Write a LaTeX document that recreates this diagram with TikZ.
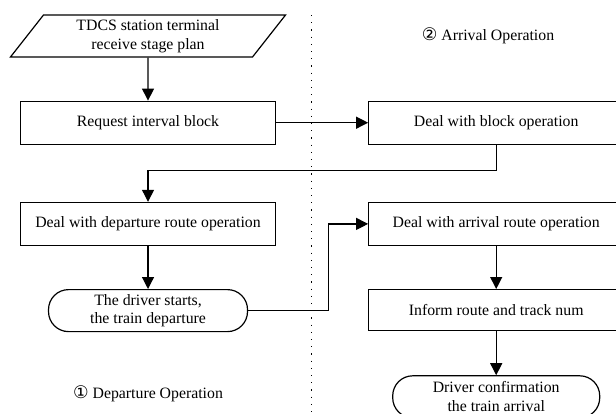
\documentclass[tikz,border=0pt]{standalone}
\usepackage{fontspec}
\setmainfont{Liberation Serif}
\newfontfamily\circfont[Scale=1.1]{DejaVu Sans}
\usetikzlibrary{positioning,shapes.geometric,arrows.meta}

\begin{document}
\begin{tikzpicture}[
	x=0.5pt,y=-0.5pt,
	font=\fontsize{7.9}{9.4}\selectfont,
	proc/.style={
		draw,
		rectangle,
		line width=0.6pt,
		minimum width=127.5pt,
		minimum height=21.5pt,
		inner sep=2pt
	},
	term/.style={
		draw,
		rectangle, rounded corners=10pt,
		line width=0.6pt,
		align=center,
		minimum height=21pt,
		inner sep=2pt
	},
	io/.style={
		draw,
		trapezium, trapezium left angle=58, trapezium right angle=122,
		trapezium stretches=true,
		minimum width=138pt, minimum height=21pt,
		align=center,
		line width=0.6pt,
		inner sep=1pt
	},
	flow/.style={-{Triangle[length=6pt,width=6pt]}, line width=0.6pt}
	]
	\useasboundingbox (0,0) rectangle (616,413);
	\clip (0,0) rectangle (616,413);
	
	% departure side
	\node[io] at (148,36)
	(plan) {TDCS station terminal\\receive stage plan};
	\node[proc,below=21.5pt of plan]
	(req) {Request interval block};
	\node[proc,below=28.5pt of req]
	(dep) {Deal with departure route operation};
	\node[term,minimum width=99.5pt,below=21.5pt of dep]
	(start) {The driver starts,\\the train departure};
	\node at (148,394)
	(deplbl) {{\circfont ①} Departure Operation};
	
	% arrival side
	\node[proc,right=46pt of req]
	(blockop) {Deal with block operation};
	\node[proc,below=28.5pt of blockop]
	(arrroute) {Deal with arrival route operation};
	\node[proc,minimum height=20.5pt,below=21.5pt of arrroute]
	(inform) {Inform route and track num};
	\node[term,minimum width=103.5pt,below=22pt of inform]
	(driver) {Driver confirmation\\the train arrival};
	\node at (488,36)
	(arrlbl) {{\circfont ②} Arrival Operation};
	
	% divider
	\coordinate (divtop) at (311,15);
	\coordinate (divbot) at (311,413);
	\draw[line width=0.5pt,dash pattern=on 0.6pt off 3pt] (divtop) -- (divbot);
	
	\draw[flow] (plan) -- (req);
	\draw[flow] (req) -- (blockop);
	\draw[flow] (blockop.south) -- ++(0,26) -| (dep.north);
	\draw[flow] (dep) -- (start);
	\draw[flow] (start.east) -- ++(80,0) |- (arrroute.west);
	\draw[flow] (arrroute) -- (inform);
	\draw[flow] (inform) -- (driver);
\end{tikzpicture}
\end{document}
